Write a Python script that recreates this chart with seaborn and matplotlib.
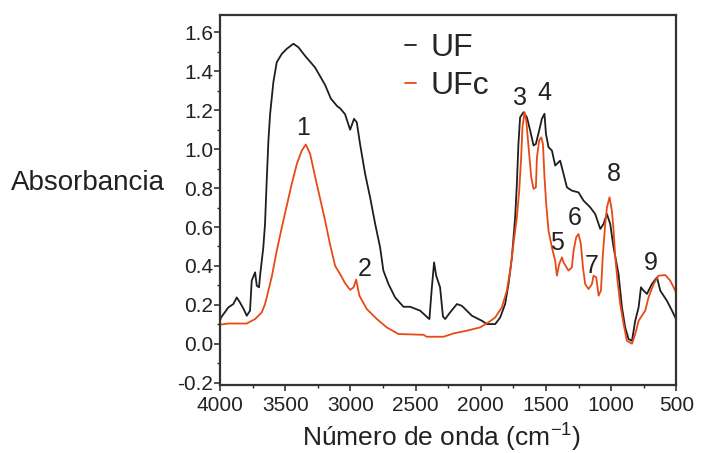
import numpy as np
import pandas as pd
import seaborn as sns
from matplotlib import pyplot as plt
from matplotlib.ticker import MultipleLocator

# UF spectrum (black)
uf_x = [4000, 3992, 3936, 3898, 3872, 3847, 3820, 3795, 3770, 3757, 3731, 3718, 3701, 3693,
        3668, 3655, 3642, 3629, 3616, 3591, 3565, 3526, 3488, 3437, 3399, 3348, 3271, 3194,
        3150, 3100, 3079, 3041, 3002, 2972, 2951, 2926, 2887, 2849, 2810, 2772, 2747, 2708,
        2657, 2593, 2542, 2465, 2400, 2394, 2375, 2358, 2342, 2312, 2290, 2273, 2235, 2183,
        2145, 2068, 1991, 1953, 1889, 1851, 1813, 1787, 1761, 1736, 1723, 1711, 1698, 1672,
        1646, 1621, 1595, 1577, 1552, 1531, 1511, 1500, 1480, 1454, 1429, 1391, 1365, 1339,
        1301, 1250, 1212, 1160, 1122, 1083, 1058, 1032, 1007, 981, 943, 917, 892, 866, 840,
        815, 789, 771, 751, 725, 687, 648, 623, 572, 533, 508, 500]
uf_y = [0.12, 0.135, 0.187, 0.204, 0.238, 0.212, 0.18, 0.144, 0.17, 0.324, 0.367, 0.298, 0.29, 0.35,
        0.495, 0.616, 0.838, 1.044, 1.18, 1.344, 1.447, 1.49, 1.516, 1.542, 1.524, 1.48, 1.42, 1.33,
        1.26, 1.22, 1.21, 1.18, 1.10, 1.156, 1.138, 1.027, 0.873, 0.753, 0.616, 0.495, 0.376, 0.307,
        0.238, 0.19, 0.19, 0.17, 0.13, 0.127, 0.29, 0.418, 0.35, 0.29, 0.14, 0.127, 0.161, 0.204,
        0.195, 0.144, 0.118, 0.101, 0.101, 0.135, 0.204, 0.307, 0.444, 0.65, 0.821, 1.027, 1.164, 1.19,
        1.164, 1.096, 1.019, 1.027, 1.096, 1.156, 1.182, 1.079, 1.01, 0.993, 0.916, 0.941, 0.873, 0.804,
        0.787, 0.778, 0.736, 0.701, 0.667, 0.59, 0.616, 0.667, 0.616, 0.495, 0.358, 0.187, 0.084, 0.024, 0.015,
        0.118, 0.187, 0.29, 0.273, 0.256, 0.307, 0.341, 0.273, 0.221, 0.17, 0.135, 0.125]

# UFc spectrum (orange)
ufc_x = [4000, 3936, 3795, 3731, 3680, 3655, 3642, 3603, 3565, 3526, 3488, 3450, 3411, 3373,
         3342, 3309, 3271, 3232, 3194, 3156, 3117, 3079, 3040, 3002, 2975, 2956, 2931, 2874,
         2797, 2721, 2632, 2440, 2414, 2286, 2209, 2107, 2005, 1941, 1889, 1838, 1800, 1774,
         1749, 1723, 1705, 1690, 1680, 1664, 1651, 1633, 1613, 1595, 1577, 1569, 1552, 1536,
         1523, 1511, 1498, 1480, 1454, 1429, 1416, 1398, 1377, 1365, 1327, 1301, 1288, 1268,
         1250, 1232, 1216, 1199, 1173, 1147, 1135, 1114, 1096, 1078, 1063, 1045, 1032, 1012,
         994, 981, 968, 951, 930, 904, 879, 840, 815, 789, 764, 738, 713, 674, 636, 584, 546,
         508, 500]
ufc_y = [0.098, 0.104, 0.104, 0.127, 0.161, 0.204, 0.238, 0.345, 0.478, 0.598, 0.71, 0.821, 0.924, 0.993,
         1.024, 0.976, 0.86, 0.745, 0.633, 0.51, 0.40, 0.358, 0.31, 0.277, 0.29, 0.33, 0.247, 0.178,
         0.127, 0.084, 0.05, 0.046, 0.036, 0.036, 0.053, 0.067, 0.084, 0.11, 0.135, 0.187, 0.273, 0.376,
         0.513, 0.65, 0.787, 0.958, 1.113, 1.19, 1.147, 1.01, 0.856, 0.796, 0.804, 0.958, 1.044, 1.061,
         1.027, 0.856, 0.719, 0.581, 0.495, 0.427, 0.35, 0.41, 0.444, 0.418, 0.376, 0.393, 0.478, 0.547,
         0.564, 0.513, 0.393, 0.307, 0.281, 0.307, 0.35, 0.341, 0.247, 0.273, 0.461, 0.616, 0.701, 0.753,
         0.684, 0.581, 0.444, 0.324, 0.204, 0.101, 0.015, 0.0, 0.05, 0.118, 0.144, 0.17, 0.238, 0.307, 0.35, 0.353, 0.324,
         0.273, 0.26]

# band labels
band_labels = ['1', '2', '3', '4', '5', '6', '7', '8', '9']
band_x = [3362, 2894, 1698, 1513, 1414, 1276, 1147, 977, 693]
band_y = [1.11, 0.386, 1.265, 1.29, 0.52, 0.648, 0.40, 0.874, 0.417]

df = pd.concat([
    pd.DataFrame({'wn': uf_x, 'abs': uf_y, 'muestra': 'UF'}),
    pd.DataFrame({'wn': ufc_x, 'abs': ufc_y, 'muestra': 'UFc'}),
])

sns.set_style('ticks')
plt.rcParams['font.family'] = ['Liberation Sans', 'DejaVu Sans']
plt.rcParams['axes.unicode_minus'] = False

fig = plt.figure(figsize=(7.03, 4.53), dpi=100)
ax = fig.add_axes([0.313, 0.151, 0.649, 0.816])

pal = {'UF': '#1e1e1e', 'UFc': '#e84a17'}
sns.lineplot(data=df, x='wn', y='abs', hue='muestra', palette=pal, estimator=None,
             linewidth=1.3, ax=ax)

for lab, bx, by in zip(band_labels, band_x, band_y):
    ax.text(bx, by, lab, ha='center', va='center', fontsize=18, color='#222222')

ax.set_xlim(4000, 500)
ax.set_ylim(-0.21, 1.69)
ax.set_xticks(np.arange(4000, 499, -500))
ax.set_yticks(np.round(np.arange(-0.2, 1.61, 0.2), 1))
ax.xaxis.set_minor_locator(MultipleLocator(250))
ax.yaxis.set_minor_locator(MultipleLocator(0.1))
ax.tick_params(axis='both', which='major', labelsize=15, length=4, width=1.2, colors='#333333',
               labelcolor='#222222')
ax.tick_params(axis='both', which='minor', length=2.5, width=1)
ax.tick_params(axis='y', pad=1)
ax.tick_params(axis='x', pad=4)

for s in ax.spines.values():
    s.set_visible(True)
    s.set_linewidth(1.6)
    s.set_color('#333333')

ax.set_xlabel(r'Número de onda (cm$^{\mathregular{ -1}}$)', fontsize=19, color='#222222')
ax.xaxis.set_label_coords(0.485, -0.095)
ax.set_ylabel('Absorbancia', rotation=0, fontsize=20, ha='right', va='center', color='#222222')
ax.yaxis.set_label_coords(-0.12, 0.546)

ax.legend(loc='upper left', bbox_to_anchor=(0.405, 0.95), frameon=False, fontsize=23,
          handlelength=0.35, handletextpad=0.45, labelspacing=0.25, borderpad=0, borderaxespad=0)

fig.savefig('out.png', dpi=100)
